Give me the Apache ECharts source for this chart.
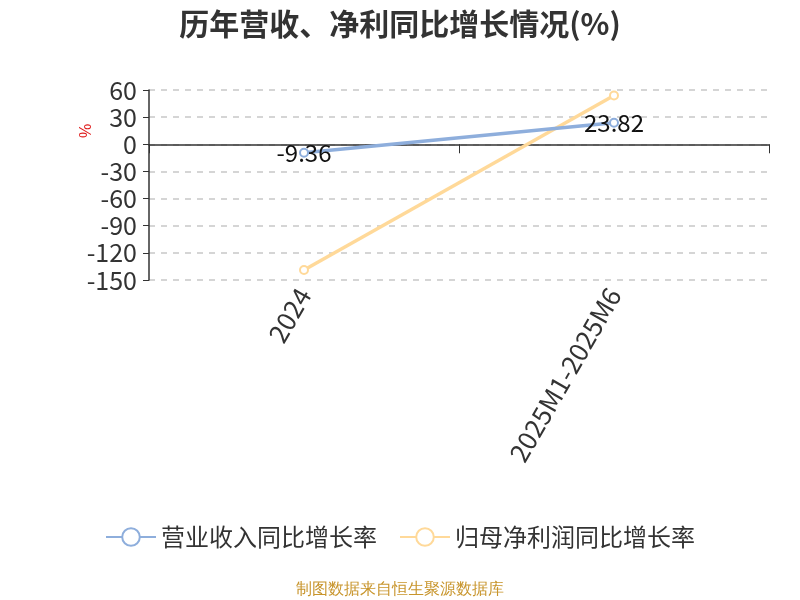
<!DOCTYPE html>
<html><head><meta charset="utf-8">
<script src="https://cdn.jsdelivr.net/npm/echarts@6/dist/echarts.min.js"></script>
<style>html,body{margin:0;padding:0;background:#fff}#c{width:800px;height:600px}</style>
</head><body><div id="c"></div>
<script>
var categories = ['2024', '2025M1-2025M6'];
var revenueGrowth = [-9.36, 23.82];
var profitGrowth = [-139, 54];
var yTicks = {min: -150, max: 60, interval: 30};
var seriesNames = ['营业收入同比增长率', '归母净利润同比增长率'];

var chart = echarts.init(document.getElementById('c'));
var font = '"Microsoft YaHei","Noto Sans CJK SC","Noto Sans",sans-serif';
chart.setOption({
  backgroundColor: '#fff',
  animation: false,
  title: {
    text: '历年营收、净利同比增长情况(%)',
    left: 'center', top: 4,
    textStyle: {fontSize: 30, fontWeight: 'bold', color: '#333', fontFamily: font}
  },
  legend: {
    bottom: 46, left: 'center',
    itemWidth: 50, itemHeight: 22, itemGap: 22,
    textStyle: {fontSize: 24, color: '#333', fontFamily: font},
    data: seriesNames
  },
  graphic: [{
    type: 'text', left: 'center', bottom: 2,
    style: {text: '制图数据来自恒生聚源数据库', fontSize: 16, fill: '#c8952c', font: '16px ' + font}
  }],
  grid: {left: 149, right: 31, top: 90, bottom: 320, containLabel: false},
  xAxis: {
    type: 'category', data: categories, boundaryGap: true,
    axisLine: {onZero: true, lineStyle: {color: '#333', width: 1.5}},
    axisTick: {show: true, length: 9, lineStyle: {color: '#333'}},
    axisLabel: {rotate: 60, fontSize: 26, color: '#333', fontFamily: font, interval: 0, margin: 10}
  },
  yAxis: {
    type: 'value', min: yTicks.min, max: yTicks.max, interval: yTicks.interval,
    name: '%', nameLocation: 'middle', nameGap: 54, nameRotate: 90, nameMoveOverlap: false,
    nameTextStyle: {color: '#e02020', fontSize: 16, padding: [0, 0, 0, 108]},
    axisLine: {show: true, lineStyle: {color: '#333', width: 1.5}},
    axisTick: {show: true, length: 6, lineStyle: {color: '#333'}},
    axisLabel: {fontSize: 25, color: '#333', fontFamily: font, margin: 12},
    splitLine: {show: true, lineStyle: {type: [6, 6], color: '#c8c8c8', width: 1.5}}
  },
  series: [{
    name: seriesNames[0], type: 'line', data: revenueGrowth,
    symbol: 'emptyCircle', symbolSize: 8,
    itemStyle: {color: '#8eaedc'},
    lineStyle: {width: 3.5, color: '#8eaedc'},
    label: {show: true, position: 'inside', fontSize: 24, color: '#111', fontFamily: font},
    z: 3
  }, {
    name: seriesNames[1], type: 'line', data: profitGrowth,
    symbol: 'emptyCircle', symbolSize: 8,
    itemStyle: {color: '#ffd999'},
    lineStyle: {width: 3.5, color: '#ffd999'},
    label: {show: false},
    z: 2
  }]
});
</script></body></html>
